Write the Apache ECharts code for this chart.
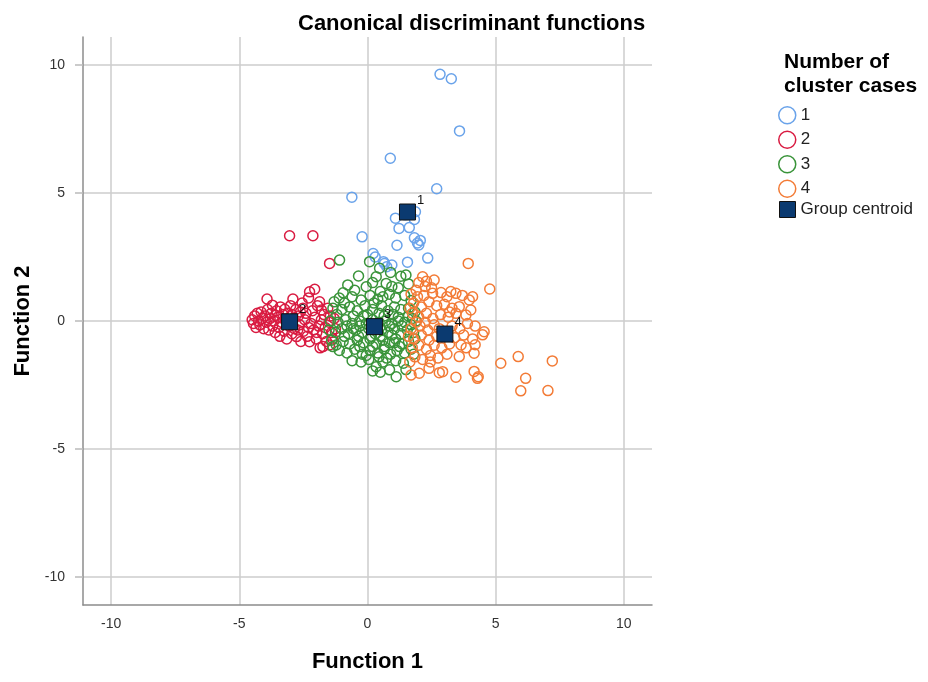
<!DOCTYPE html>
<html>
<head>
<meta charset="utf-8">
<script src="https://cdn.jsdelivr.net/npm/echarts@6/dist/echarts.min.js"></script>
<style>
  html, body { margin: 0; padding: 0; background: #ffffff; }
  #chart { width: 928px; height: 682px; }
</style>
</head>
<body>
<div id="chart"></div>
<script>
// Axis tick values shared by both discriminant functions
const tickValues = [-10, -5, 0, 5, 10];

// Discriminant scores [Function 1, Function 2] per cluster
const cluster1 = [
  [2.83, 9.64], [3.27, 9.47], [3.59, 7.43], [0.89, 6.36], [2.70, 5.17], [-0.61, 4.84],
  [1.09, 4.02], [1.87, 4.27], [1.83, 3.97], [1.23, 3.62], [1.63, 3.65], [-0.21, 3.29],
  [1.83, 3.25], [2.06, 3.15], [2.00, 2.97], [1.15, 2.96], [0.22, 2.64], [2.35, 2.46],
  [1.56, 2.30], [0.62, 2.32], [0.95, 2.19], [0.75, 2.12], [0.66, 2.25], [1.48, 4.15],
  [0.30, 2.50], [1.95, 3.05]
];

const cluster2 = [
  [-4.50, 0.05], [-4.45, -0.10], [-4.40, 0.20], [-4.35, -0.25], [-4.30, 0.30], [-4.25, 0.00],
  [-4.20, -0.15], [-4.15, 0.35], [-4.10, 0.10], [-4.05, -0.30], [-4.00, 0.20], [-3.95, -0.05],
  [-3.92, 0.86], [-3.90, 0.45], [-3.85, -0.35], [-3.80, 0.10], [-3.75, 0.30], [-3.71, 0.62],
  [-3.70, -0.20], [-3.65, 0.00], [-3.60, -0.45], [-3.55, 0.40], [-3.50, 0.15], [-3.45, -0.25],
  [-3.42, -0.60], [-3.40, 0.55], [-3.35, -0.05], [-3.30, 0.25], [-3.25, -0.40], [-3.23, 0.46],
  [-3.20, 0.05], [-3.15, -0.70], [-3.10, 0.30], [-3.05, -0.20], [-3.00, 0.60], [-2.95, -0.50],
  [-2.91, 0.86], [-2.90, 0.10], [-2.85, -0.30], [-2.80, 0.45], [-2.77, -0.61], [-2.70, 0.20],
  [-2.65, -0.15], [-2.60, -0.80], [-2.55, 0.70], [-2.52, 0.50], [-2.50, -0.40], [-2.45, 0.05],
  [-2.40, 0.30], [-2.35, -0.60], [-2.30, 0.90], [-2.26, 1.14], [-2.26, -0.81], [-2.20, -0.10],
  [-2.15, 0.40], [-2.10, -0.35], [-2.06, 1.24], [-2.05, 0.15], [-2.00, -0.70], [-1.95, 0.60],
  [-1.90, -0.20], [-1.87, 0.75], [-1.85, -1.05], [-1.80, 0.43], [-1.80, 0.05], [-1.75, -0.50],
  [-1.74, -1.00], [-1.70, 0.25], [-1.65, -0.25], [-1.60, -0.80], [-1.55, 0.50], [-1.50, -0.05],
  [-1.48, -0.94], [-1.45, 0.20], [-1.40, -0.45], [-1.35, -0.70], [-1.30, 0.10], [-1.25, -0.30],
  [-2.62, 0.35], [-2.95, 0.25], [-3.58, 0.22], [-2.30, -0.25], [-1.98, -0.45], [-2.72, -0.35],
  [-3.04, 3.33], [-2.13, 3.33], [-1.48, 2.25]
];

const cluster3 = [
  [-1.09, 2.38], [0.08, 2.32], [0.47, 2.06], [-0.35, 1.76], [0.34, 1.73], [1.50, 1.80], [0.90, 1.90],
  [-0.77, 1.41], [-0.05, 1.34], [0.73, 1.47], [0.20, 1.50], [1.20, 1.30], [1.60, 1.45], [-0.50, 1.20],
  [0.50, 1.15], [-1.10, 0.90], [-0.60, 0.95], [-0.25, 0.82], [0.10, 1.00], [0.40, 0.85], [0.85, 1.05],
  [1.10, 0.90], [1.45, 1.00], [1.70, 0.80], [-0.90, 0.70], [-1.35, 0.50], [-1.00, 0.45], [-0.70, 0.55],
  [-0.40, 0.40], [-0.10, 0.60], [0.20, 0.45], [0.55, 0.60], [0.80, 0.40], [1.05, 0.55], [1.30, 0.45],
  [1.60, 0.50], [1.85, 0.35], [-1.20, 0.25], [-0.55, 0.20], [0.00, 0.25], [0.65, 0.20], [1.20, 0.15],
  [1.75, 0.10], [-1.45, 0.00], [-1.15, -0.05], [-0.85, 0.05], [-0.60, -0.10], [-0.30, 0.00],
  [-0.05, -0.10], [0.20, 0.05], [0.45, -0.05], [0.70, 0.00], [0.95, -0.10], [1.20, 0.00], [1.45, -0.05],
  [1.70, -0.15], [1.90, 0.00], [-1.50, -0.35], [-1.25, -0.45], [-1.00, -0.30], [-0.75, -0.50],
  [-0.45, -0.35], [-0.20, -0.45], [0.05, -0.30], [0.30, -0.50], [0.55, -0.35], [0.80, -0.45],
  [1.05, -0.30], [1.30, -0.50], [1.55, -0.35], [1.80, -0.45], [-1.40, -0.75], [-1.22, -0.94],
  [-0.95, -0.80], [-0.70, -0.90], [-0.40, -0.75], [-0.15, -0.85], [0.10, -0.70], [0.35, -0.90],
  [0.60, -0.75], [0.85, -0.85], [1.10, -0.70], [1.35, -0.90], [1.60, -0.80], [1.85, -0.70],
  [-1.10, -1.15], [-0.80, -1.25], [-0.50, -1.10], [-0.20, -1.30], [0.10, -1.15], [0.40, -1.25],
  [0.65, -1.10], [0.90, -1.30], [1.15, -1.15], [1.45, -1.25], [1.70, -1.10], [-0.60, -1.55],
  [-0.25, -1.60], [0.05, -1.50], [0.34, -1.79], [0.60, -1.60], [0.86, -1.91], [1.10, -1.55],
  [1.40, -1.65], [0.75, -1.45], [0.50, -2.00], [1.12, -2.18], [0.20, -1.95], [1.50, -1.90],
  [-0.35, -0.60], [0.15, -0.60], [0.50, -0.60], [0.95, -0.55], [-0.80, -0.20], [0.30, -0.20],
  [0.85, -0.20], [1.35, -0.20], [-0.15, 0.20], [0.45, 0.30], [1.00, 0.25], [-0.90, -0.60],
  [0.65, -1.00], [-0.30, -1.00], [0.20, -1.00], [1.25, -1.00], [-1.30, 0.75], [-0.95, 1.10],
  [0.95, 1.35], [1.30, 1.75], [-1.35, -1.00], [1.60, 0.20], [1.80, -1.30], [-0.55, -0.30],
  [0.60, 0.95], [0.25, 0.70], [-0.30, -0.20], [1.05, -0.85], [0.45, -1.40], [-0.05, -1.35]
];

const cluster4 = [
  [3.93, 2.25], [4.77, 1.25], [2.15, 1.73], [2.30, 1.55], [2.00, 1.50], [2.60, 1.60],
  [1.90, 1.20], [2.54, 1.08], [2.87, 1.11], [3.45, 1.08], [2.20, 1.00], [3.10, 0.95], [3.70, 1.00],
  [4.10, 0.95], [1.80, 0.70], [2.10, 0.55], [2.40, 0.75], [2.70, 0.60], [3.00, 0.65], [3.30, 0.50],
  [3.58, 0.56], [3.97, 0.82], [4.03, 0.43], [3.84, 0.23], [1.75, 0.30], [2.00, 0.15], [2.30, 0.30],
  [2.55, 0.10], [2.85, 0.25], [3.15, 0.15], [3.45, 0.30], [1.90, -0.05], [1.70, -0.30], [2.05, -0.20],
  [2.35, -0.35], [2.60, -0.15], [3.30, -0.20], [3.60, -0.30], [3.90, -0.10], [4.20, -0.20],
  [1.80, -0.70], [2.10, -0.55], [2.40, -0.75], [2.70, -0.60], [3.40, -0.65], [3.75, -0.55],
  [4.49, -0.54], [4.55, -0.42], [4.10, -0.70], [1.75, -1.05], [2.00, -0.95], [2.30, -1.10],
  [2.60, -0.95], [2.90, -1.05], [3.20, -0.90], [3.65, -0.94], [4.20, -0.93], [4.16, -1.26],
  [1.85, -1.40], [2.15, -1.50], [2.45, -1.35], [2.75, -1.45], [3.10, -1.30], [3.58, -1.39],
  [5.20, -1.65], [5.88, -1.39], [7.21, -1.56], [1.70, -2.11], [2.02, -2.04], [2.80, -2.02],
  [2.93, -1.98], [3.45, -2.20], [4.16, -1.97], [4.29, -2.24], [4.32, -2.18], [6.17, -2.24],
  [5.98, -2.73], [7.04, -2.72], [2.40, -1.85], [1.95, 0.95], [2.50, 1.30], [1.65, 0.50],
  [1.60, -0.60], [1.65, -1.60], [2.25, -0.05], [3.20, 0.35], [2.80, -0.30], [3.85, -1.05],
  [2.25, 1.35], [3.25, 1.15], [1.70, 1.05], [2.45, -1.60]
];

const clusterData = [cluster1, cluster2, cluster3, cluster4];
const clusterNames = ['1', '2', '3', '4'];
const clusterColors = ['#6aa3ea', '#d91b41', '#3a943a', '#f37b36'];

// Group centroids, in cluster order
const centroids = [[1.56, 4.26], [-3.04, -0.03], [0.27, -0.22], [3.02, -0.51]];
const centroidLabels = ['1', '2', '3', '4'];

const fontFamily = '"Liberation Sans", Arial, sans-serif';

const chart = echarts.init(document.getElementById('chart'), null, { renderer: 'canvas' });

const scatterSeries = clusterData.map((pts, i) => ({
  name: clusterNames[i],
  type: 'scatter',
  data: pts,
  symbol: 'circle',
  symbolSize: 10,
  itemStyle: { color: 'rgba(255,255,255,0)', borderColor: clusterColors[i], borderWidth: 1.5, opacity: 1 },
  emphasis: { disabled: true },
  z: 3
}));

const centroidSeries = {
  name: 'Group centroid',
  type: 'scatter',
  data: centroids.map((c, i) => ({ value: c, label: { formatter: centroidLabels[i] } })),
  symbol: 'rect',
  symbolSize: 16,
  itemStyle: { color: '#0b3a70', borderColor: '#111111', borderWidth: 1, opacity: 1 },
  label: {
    show: true,
    position: 'right',
    distance: 1,
    offset: [0, -12],
    fontSize: 13,
    color: '#111111',
    fontFamily: fontFamily
  },
  emphasis: { disabled: true },
  z: 5
};

const axisCommon = {
  type: 'value',
  min: -11.1,
  max: 11.1,
  nameLocation: 'middle',
  nameTextStyle: { fontSize: 22, fontWeight: 'bold', color: '#000000', fontFamily: fontFamily },
  axisLine: { show: true, onZero: false, lineStyle: { color: '#8c8c8c', width: 1.5 } },
  axisLabel: { customValues: tickValues, fontSize: 14, color: '#333333', fontFamily: fontFamily },
  splitLine: { show: true, lineStyle: { color: '#cccccc', width: 1.5 } }
};

chart.setOption({
  backgroundColor: '#ffffff',
  animation: false,
  title: [
    {
      text: 'Canonical discriminant functions',
      left: 293,
      top: 8,
      textStyle: { fontSize: 22, fontWeight: 'bold', color: '#000000', fontFamily: fontFamily }
    },
    {
      text: 'Number of\ncluster cases',
      left: 779,
      top: 45,
      textStyle: { fontSize: 21, fontWeight: 'bold', color: '#000000', lineHeight: 24, fontFamily: fontFamily }
    }
  ],
  legend: [
    {
      data: clusterNames.map((n, i) => ({
        name: n,
        icon: 'circle',
        itemStyle: { color: 'rgba(255,255,255,0)', borderColor: clusterColors[i], borderWidth: 1.5 }
      })),
      orient: 'vertical',
      left: 778,
      top: 106,
      itemWidth: 17,
      itemHeight: 17,
      itemGap: 6,
      padding: 0,
      selectedMode: false,
      textStyle: { fontSize: 17, color: '#222222', fontFamily: fontFamily }
    },
    {
      data: [{ name: 'Group centroid', icon: 'rect', itemStyle: { color: '#0b3a70', borderColor: '#111111', borderWidth: 1 } }],
      orient: 'vertical',
      left: 779,
      top: 201,
      itemWidth: 16,
      itemHeight: 16,
      padding: 0,
      selectedMode: false,
      textStyle: { fontSize: 17, color: '#222222', fontFamily: fontFamily }
    }
  ],
  grid: { left: 83, right: 276, top: 37, bottom: 77, containLabel: false },
  xAxis: Object.assign({}, axisCommon, {
    name: 'Function 1',
    nameGap: 46,
    axisTick: { show: false, customValues: tickValues },
    axisLabel: Object.assign({}, axisCommon.axisLabel, { margin: 12 })
  }),
  yAxis: Object.assign({}, axisCommon, {
    name: 'Function 2',
    nameGap: 45,
    axisTick: { show: true, length: 8, customValues: tickValues, lineStyle: { color: '#bbbbbb', width: 1.5 } },
    axisLabel: Object.assign({}, axisCommon.axisLabel, { margin: 18 })
  }),
  series: scatterSeries.concat([centroidSeries])
});
</script>
</body>
</html>
